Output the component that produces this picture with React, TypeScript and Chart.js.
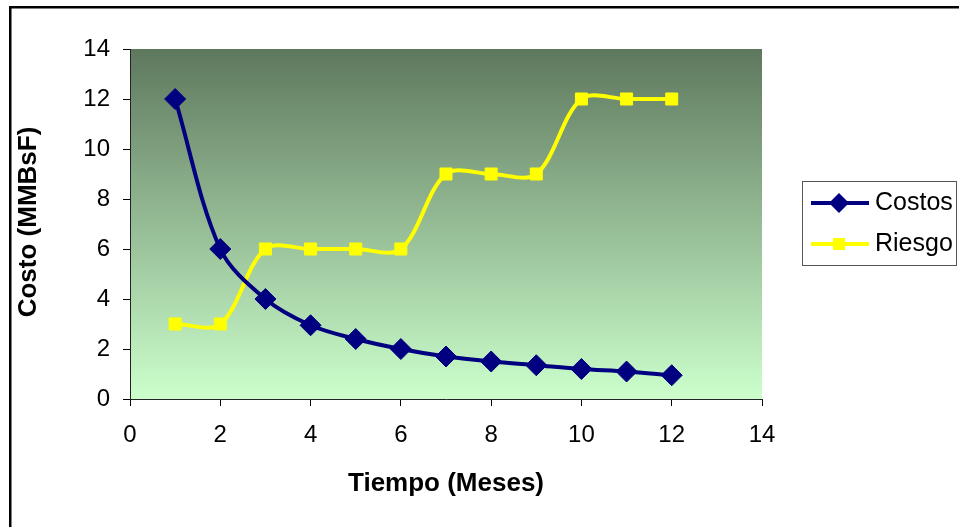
import React, { useEffect, useRef } from "react";
import { Chart, registerables } from "chart.js";

Chart.register(...registerables);

const months = [1, 2, 3, 4, 5, 6, 7, 8, 9, 10, 11, 12];
const costos = [12, 6, 4, 2.95, 2.4, 2, 1.7, 1.5, 1.35, 1.2, 1.1, 0.95];
const riesgo = [3, 3, 6, 6, 6, 6, 9, 9, 9, 12, 12, 12];
const seriesNames = ["Costos", "Riesgo"];
const xTitle = "Tiempo (Meses)";
const yTitle = "Costo (MMBsF)";

const FONT = "'Liberation Sans', Arial, sans-serif";

const decorPlugin = {
  id: "decor",
  beforeDraw(chart: any) {
    const { ctx, chartArea } = chart;
    const { left, top, right, bottom } = chartArea;
    ctx.save();
    ctx.fillStyle = "#ffffff";
    ctx.fillRect(0, 0, chart.width, chart.height);
    const g = ctx.createLinearGradient(0, top, 0, bottom);
    g.addColorStop(0, "rgb(94,120,94)");
    g.addColorStop(1, "rgb(204,255,204)");
    ctx.fillStyle = g;
    ctx.fillRect(left, top, right - left, bottom - top);
    ctx.restore();
  },
  afterDraw(chart: any) {
    const { ctx, chartArea } = chart;
    ctx.save();
    // outer border
    ctx.strokeStyle = "#000";
    ctx.lineWidth = 2.5;
    ctx.strokeRect(10.25, 7.25, 1000, 1000);
    // axis titles
    ctx.fillStyle = "#000";
    ctx.font = `bold 26px ${FONT}`;
    ctx.textAlign = "center";
    ctx.textBaseline = "middle";
    ctx.fillText(xTitle, (chartArea.left + chartArea.right) / 2, 484);
    ctx.save();
    ctx.translate(29, 222);
    ctx.rotate(-Math.PI / 2);
    ctx.fillText(yTitle, 0, 0);
    ctx.restore();
    // legend
    ctx.lineWidth = 1;
    ctx.strokeStyle = "#555";
    ctx.strokeRect(802.5, 181.5, 154, 84);
    const items = [
      { name: seriesNames[0], color: "#000080", style: "diamond", y: 203 },
      { name: seriesNames[1], color: "#ffff00", style: "square", y: 244 },
    ];
    for (const it of items) {
      ctx.strokeStyle = it.color;
      ctx.lineWidth = 4;
      ctx.beginPath();
      ctx.moveTo(811, it.y);
      ctx.lineTo(869, it.y);
      ctx.stroke();
      ctx.fillStyle = it.color;
      ctx.beginPath();
      if (it.style === "diamond") {
        ctx.moveTo(839, it.y - 10);
        ctx.lineTo(849, it.y);
        ctx.lineTo(839, it.y + 10);
        ctx.lineTo(829, it.y);
      } else {
        ctx.rect(833, it.y - 6, 12, 12);
      }
      ctx.closePath();
      ctx.fill();
      ctx.fillStyle = "#000";
      ctx.font = `25px ${FONT}`;
      ctx.textAlign = "left";
      ctx.textBaseline = "middle";
      ctx.fillText(it.name, 875, it.y);
    }
    ctx.restore();
  },
};

export default function App() {
  const ref = useRef<HTMLCanvasElement | null>(null);
  useEffect(() => {
    document.body.style.margin = "0";
    const canvas = ref.current!;
    const chart = new Chart(canvas, {
      type: "line",
      data: {
        datasets: [
          {
            label: seriesNames[0],
            data: months.map((m, i) => ({ x: m, y: costos[i] })),
            borderColor: "#000080",
            backgroundColor: "#000080",
            borderWidth: 4,
            pointStyle: "rectRot",
            pointRadius: 10.5,
            pointBorderWidth: 1,
            tension: 0.33,
            fill: false,
          },
          {
            label: seriesNames[1],
            data: months.map((m, i) => ({ x: m, y: riesgo[i] })),
            borderColor: "#ffff00",
            backgroundColor: "#ffff00",
            borderWidth: 4,
            pointStyle: "rect",
            pointRadius: 8.5,
            pointBorderWidth: 1,
            tension: 0.33,
            fill: false,
          },
        ],
      },
      options: {
        animation: false,
        responsive: false,
        maintainAspectRatio: false,
        layout: { padding: { left: 0, top: 49, right: 197, bottom: 0 } },
        plugins: { legend: { display: false }, tooltip: { enabled: false } },
        scales: {
          x: {
            type: "linear",
            min: 0,
            max: 14,
            ticks: { stepSize: 2, color: "#000", font: { size: 24, family: FONT }, padding: 15, maxRotation: 0 },
            grid: { drawOnChartArea: false, tickLength: 7, color: "#000" },
            border: { color: "#222", width: 1 },
            afterFit: (s: any) => { s.height = 128; },
          },
          y: {
            min: 0,
            max: 14,
            ticks: { stepSize: 2, color: "#000", font: { size: 24, family: FONT }, padding: 13 },
            grid: { drawOnChartArea: false, tickLength: 7, color: "#000" },
            border: { color: "#222", width: 1 },
            afterFit: (s: any) => { s.width = 130; },
          },
        },
      },
      plugins: [decorPlugin],
    });
    return () => chart.destroy();
  }, []);
  return <canvas ref={ref} width={959} height={527} style={{ display: "block" }} />;
}
